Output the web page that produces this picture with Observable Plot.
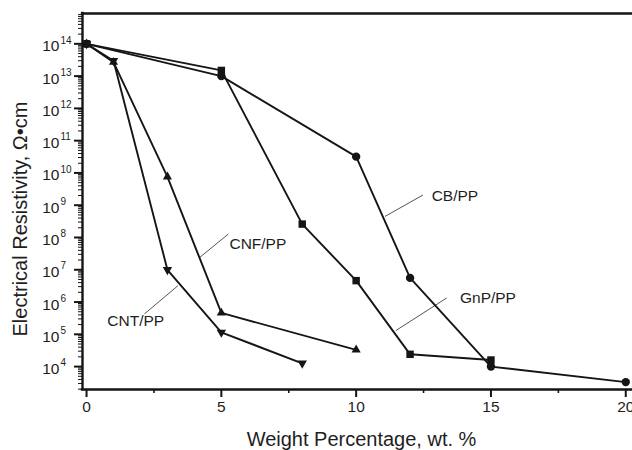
<!DOCTYPE html>
<html>
<head>
<meta charset="utf-8">
<script src="https://cdn.jsdelivr.net/npm/d3@7"></script>
<script src="https://cdn.jsdelivr.net/npm/@observablehq/plot@0.6"></script>
<style>
  html, body { margin: 0; padding: 0; background: #ffffff; }
  #chart svg { font-family: "Liberation Sans", Arial, sans-serif; background: #ffffff; }
</style>
</head>
<body>
<div id="chart"></div>
<script>
// ---- data ----
const cbX  = [0, 5, 10, 12, 15, 20];
const cbY  = [1e14, 1e13, 3.2e10, 5.6e6, 1.0e4, 3.3e3];
const gnpX = [0, 5, 8, 10, 12, 15];
const gnpY = [1e14, 1.5e13, 2.6e8, 4.6e6, 2.4e4, 1.6e4];
const cnfX = [0, 1, 3, 5, 10];
const cnfY = [1e14, 2.7e13, 7.6e9, 4.6e5, 3.3e4];
const cntX = [0, 1, 3, 5, 8];
const cntY = [1e14, 3.0e13, 1.0e7, 1.15e5, 1.26e4];

// axes
const xTicks = [0, 5, 10, 15, 20];
const xTickLabels = ["0", "5", "10", "15", "20"];
const xMinor = [2.5, 7.5, 12.5, 17.5];
const yTicks = [1e4, 1e5, 1e6, 1e7, 1e8, 1e9, 1e10, 1e11, 1e12, 1e13, 1e14];
const yTickExp = ["4", "5", "6", "7", "8", "9", "10", "11", "12", "13", "14"];
const yDecades = [1e3, 1e4, 1e5, 1e6, 1e7, 1e8, 1e9, 1e10, 1e11, 1e12, 1e13, 1e14];
const xDomain = [-0.15, 20.25];
const yDomain = [Math.pow(10, 3.29), Math.pow(10, 14.94)];

// annotations (label text, leader line ends, label anchor) in data units
const annLabels = ["CB/PP", "GnP/PP", "CNF/PP", "CNT/PP"];
const annX1 = [11.07, 11.47, 4.20, 2.15];
const annY1 = [4.5e8, 1.3e5, 2.42e7, 4.3e5];
const annX2 = [12.48, 13.36, 5.26, 3.39];
const annY2 = [2.07e9, 1.34e6, 1.28e8, 3.2e6];
const annTX = [12.80, 13.85, 5.30, 0.77];
const annTY = [1.87e9, 1.3e6, 6.3e7, 2.5e5];

// ---- tables built from the arrays ----
const mk = (name, xs, ys) => xs.map((x, i) => ({series: name, x, y: ys[i]}));
const cb = mk("CB/PP", cbX, cbY);
const gnp = mk("GnP/PP", gnpX, gnpY);
const cnf = mk("CNF/PP", cnfX, cnfY);
const cnt = mk("CNT/PP", cntX, cntY);
const all = [...cb, ...gnp, ...cnf, ...cnt];

const yMinorTicks = [];
for (const d of yDecades) for (let k = 2; k <= 9; k++) {
  const v = d * k;
  if (v > yDomain[0] && v < yDomain[1]) yMinorTicks.push(v);
}
const ann = annLabels.map((t, i) => ({t, x1: annX1[i], y1: annY1[i], x2: annX2[i], y2: annY2[i], tx: annTX[i], ty: annTY[i]}));

const downTriangle = {
  draw(context, size) {
    const s3 = Math.sqrt(3);
    const y = -Math.sqrt(size / (s3 * 3));
    context.moveTo(0, -y * 2);
    context.lineTo(-s3 * y, y);
    context.lineTo(s3 * y, y);
    context.closePath();
  }
};

const ink = "#151515";
const txt = "#1e1e1e";

const chart = Plot.plot({
  width: 632,
  height: 450,
  marginLeft: 82,
  marginRight: 0,
  marginTop: 13,
  marginBottom: 61,
  style: {background: "#ffffff", fontFamily: "Liberation Sans, Arial, sans-serif"},
  x: {domain: xDomain, axis: null},
  y: {type: "log", domain: yDomain, axis: null},
  marks: [
    // frame (left, top, bottom)
    Plot.ruleX([xDomain[0]], {stroke: ink, strokeWidth: 2.4, strokeLinecap: "square"}),
    Plot.ruleY([yDomain[1]], {stroke: ink, strokeWidth: 2.4, strokeLinecap: "square"}),
    Plot.ruleY([yDomain[0]], {stroke: ink, strokeWidth: 2.4, strokeLinecap: "square"}),
    // x ticks
    Plot.ruleX(xTicks, {x: d => d, y1: yDomain[0], y2: yDomain[0], insetTop: 8, stroke: ink, strokeWidth: 2}),
    Plot.ruleX(xMinor, {x: d => d, y1: yDomain[0], y2: yDomain[0], insetTop: 4, stroke: ink, strokeWidth: 1.6}),
    // y ticks
    Plot.ruleY(yTicks, {y: d => d, x1: xDomain[0], x2: xDomain[0], insetLeft: -8, stroke: ink, strokeWidth: 2}),
    Plot.ruleY(yMinorTicks, {y: d => d, x1: xDomain[0], x2: xDomain[0], insetLeft: -4, stroke: ink, strokeWidth: 1}),
    // tick labels
    Plot.text(xTicks, {x: d => d, y: yDomain[0], text: (d, i) => xTickLabels[i], dy: 18, fontSize: 15.5, fill: txt, textAnchor: "middle", lineAnchor: "middle"}),
    Plot.text(yTicks, {x: xDomain[0], y: d => d, text: () => "10", dx: -23, dy: 2.5, fontSize: 15.5, fill: txt, textAnchor: "end", lineAnchor: "middle"}),
    Plot.text(yTicks, {x: xDomain[0], y: d => d, text: (d, i) => yTickExp[i], dx: -22, dy: -3.5, fontSize: 10, fill: txt, textAnchor: "start", lineAnchor: "middle"}),
    // axis titles
    Plot.text(["Weight Percentage, wt. %"], {frameAnchor: "bottom", text: d => d, dx: 4, dy: 50, fontSize: 20, fill: txt, lineAnchor: "middle"}),
    Plot.text(["Electrical Resistivity, \u03A9\u2022cm"], {frameAnchor: "left", text: d => d, rotate: -90, dx: -62, dy: 17.5, fontSize: 20, fill: txt, lineAnchor: "middle", textAnchor: "middle"}),
    // leader lines + labels
    Plot.link(ann, {x1: "x1", y1: "y1", x2: "x2", y2: "y2", stroke: "#555", strokeWidth: 1}),
    Plot.text(ann, {x: "tx", y: "ty", text: "t", textAnchor: "start", lineAnchor: "middle", fontSize: 15.5, fill: txt}),
    // data lines
    Plot.line(all, {x: "x", y: "y", z: "series", stroke: ink, strokeWidth: 1.9}),
    // markers
    Plot.dot(cb, {x: "x", y: "y", symbol: "circle", r: 4.2, fill: ink}),
    Plot.dot(gnp, {x: "x", y: "y", symbol: "square", r: 4.2, fill: ink}),
    Plot.dot(cnf, {x: "x", y: "y", symbol: "triangle", r: 3.4, fill: ink}),
    Plot.dot(cnt, {x: "x", y: "y", symbol: downTriangle, r: 3.5, fill: ink})
  ]
});
document.getElementById("chart").appendChild(chart);
</script>
</body>
</html>
